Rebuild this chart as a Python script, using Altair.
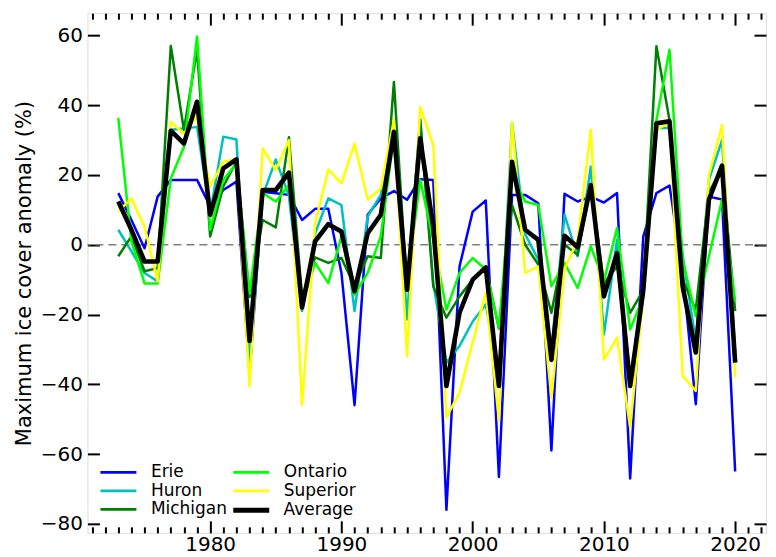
import altair as alt
import pandas as pd

years = list(range(1973, 2021))

erie = [14.8, 7.1, -1.0, 13.8, 18.6, 18.6, 18.6, 11.0, 15.7, 18.1,
        -37.0, 15.2, 14.8, 14.3, 7.1, 10.3, 10.3, -8.0, -46.0, 8.6,
        13.3, 15.4, 12.9, 18.8, 18.6, -76.0, -6.2, 9.5, 12.7, -66.6,
        14.3, 14.3, 11.9, -59.0, 14.6, 12.4, 13.8, 12.1, 14.8, -67.0,
        2.4, 14.8, 17.0, -8.1, -45.7, 13.8, 13.0, -65.0]

huron = [4.3, -1.9, -8.1, -10.5, 33.0, 33.3, 33.8, 9.0, 31.0, 30.2,
         -34.0, 14.0, 24.5, 14.0, -19.0, 3.3, 13.3, 11.4, -19.0, 8.1,
         14.3, 33.0, -21.4, 36.0, -11.0, -33.8, -29.0, -22.0, -17.1, -37.0,
         35.0, 3.0, -4.3, -30.0, 8.6, -3.3, 22.4, -25.7, 1.4, -39.0,
         -12.0, 33.5, 33.5, -3.0, -27.6, 18.6, 30.0, -31.0]

michigan = [-3.3, 2.4, -7.6, -6.7, 57.0, 32.9, 56.0, 2.4, 16.7, 23.8,
            -15.0, 7.1, 5.0, 30.8, -15.0, -3.6, -5.2, -3.8, -11.9, -3.3,
            -3.8, 46.7, -13.0, 36.0, -12.0, -20.9, -14.8, -10.0, -6.5, -24.0,
            11.4, 0.0, -5.7, -19.5, 0.0, -2.9, 17.0, -11.0, -6.2, -19.5,
            -13.0, 56.9, 35.7, -10.0, -18.6, 15.0, 22.0, -19.0]

ontario = [36.3, 1.0, -11.1, -11.1, 19.0, 28.0, 59.7, 4.3, 18.6, 23.3,
           -14.0, 14.8, 12.4, 17.1, -17.0, -5.2, -11.0, 2.4, -14.3, -8.1,
           2.4, 31.0, -11.0, 18.6, 1.4, -18.6, -8.1, -3.8, -7.1, -23.8,
           20.0, 12.4, 11.4, -11.9, -5.2, -12.4, -0.5, -10.5, 4.8, -24.3,
           -15.0, 35.7, 55.9, -4.3, -20.5, -3.3, 12.9, -16.2]

superior = [9.5, 13.3, 5.2, -10.5, 35.2, 31.9, 36.7, 16.7, 23.8, 24.5,
            -40.5, 27.6, 21.4, 30.0, -46.0, 6.2, 21.6, 17.6, 29.0, 12.9,
            16.2, 35.7, -32.0, 39.5, 28.6, -49.5, -42.4, -28.0, -13.8, -50.5,
            35.0, -8.1, -6.2, -44.0, -7.0, 1.4, 33.0, -32.9, -26.7, -52.4,
            -15.0, 33.0, 35.0, -37.6, -41.9, 20.0, 34.3, -38.0]

average = [12.4, 4.3, -4.8, -4.8, 32.7, 29.0, 41.0, 8.6, 21.9, 24.5,
           -27.6, 15.7, 15.7, 20.7, -18.0, 1.0, 5.9, 3.8, -13.3, 3.3,
           8.6, 32.4, -12.9, 30.5, 5.0, -40.5, -19.5, -10.0, -6.5, -40.5,
           23.8, 4.3, 1.4, -33.0, 2.6, -0.7, 17.1, -14.8, -2.4, -40.5,
           -13.0, 34.8, 35.4, -12.0, -30.9, 12.9, 22.7, -33.8]

lakes = ["Erie", "Huron", "Michigan", "Ontario", "Superior", "Average"]
series = [erie, huron, michigan, ontario, superior, average]
colors = {"Erie": "#0000ff", "Huron": "#00bfbf", "Michigan": "#008000",
          "Ontario": "#00ff00", "Superior": "#ffff00", "Average": "#000000"}
widths = {"Erie": 2.5, "Huron": 2.5, "Michigan": 2.5, "Ontario": 2.5,
          "Superior": 2.5, "Average": 4.6}
legend_widths = {"Erie": 2.8, "Huron": 2.8, "Michigan": 2.8, "Ontario": 2.8,
                 "Superior": 2.8, "Average": 5.0}
# legend slot (column, row) for each series
legend_slot = {"Erie": (0, 0), "Huron": (0, 1), "Michigan": (0, 2),
               "Ontario": (1, 0), "Superior": (1, 1), "Average": (1, 2)}

x_major = [1980, 1990, 2000, 2010, 2020]
x_minor = [y for y in range(1971, 2023) if y % 10 != 0]
y_major = [-80, -60, -40, -20, 0, 20, 40, 60]

rows = []
for name, vals in zip(lakes, series):
    for yr, v in zip(years, vals):
        rows.append({"year": yr, "lake": name, "value": v})
df = pd.DataFrame(rows)

FONT = "DejaVu Sans"
xscale = alt.Scale(domain=[1970.65, 2022.35], nice=False, zero=False)
yscale = alt.Scale(domain=[-82.6, 66.4], nice=False, zero=False)

common_tick = dict(tickColor="black", tickWidth=2, domain=False, grid=False, title=None)

ax_bottom_major = alt.Axis(orient="bottom", values=x_major, format="d", offset=-12, tickSize=12,
                           labelFontSize=20, labelFont=FONT, labelColor="black", labelPadding=2,
                           labelFlush=False, labelOverlap=False, **common_tick)
ax_bottom_minor = alt.Axis(orient="bottom", values=x_minor, offset=-6, tickSize=6, labels=False, **common_tick)
ax_top_major = alt.Axis(orient="top", values=x_major, offset=-12, tickSize=12, labels=False, **common_tick)
ax_top_minor = alt.Axis(orient="top", values=x_minor, offset=-6, tickSize=6, labels=False, **common_tick)
ax_left = alt.Axis(orient="left", values=y_major, offset=-12, tickSize=12, tickColor="black", tickWidth=2,
                   domain=False, grid=False, labelFontSize=20, labelFont=FONT, labelColor="black",
                   labelPadding=5, labelFlush=False, labelOverlap=False,
                   labelExpr="replace(datum.label, '-', '\u2212')",
                   title="Maximum ice cover anomaly (%)", titleFont=FONT, titleFontSize=21,
                   titleFontWeight="normal", titleColor="black", titlePadding=6)
ax_right = alt.Axis(orient="right", values=y_major, offset=-12, tickSize=12, labels=False, **common_tick)

axes_for = {
    "Erie": (ax_bottom_major, ax_left),
    "Huron": (ax_bottom_minor, ax_right),
    "Michigan": (ax_top_major, None),
    "Ontario": (ax_top_minor, None),
    "Superior": (None, None),
    "Average": (None, None),
}

LEG_X0, LEG_DX = 20.5, 133
LEG_Y0, LEG_DY = 449, 18.5


def make_legend(name):
    col, row = legend_slot[name]
    extra = legend_widths[name] - 2.8
    return alt.Legend(title=None, orient="none", legendX=LEG_X0 + col * LEG_DX - extra / 2,
                      legendY=LEG_Y0 + row * LEG_DY,
                      symbolType="M-2,0H2", symbolSize=324, symbolStrokeWidth=legend_widths[name],
                      labelFontSize=17, labelFont=FONT, labelColor="black",
                      labelOffset=22 - extra / 2, padding=0)


zero_rule = alt.Chart(df).transform_filter(alt.datum.year == 1973).transform_filter(
    alt.datum.lake == "Erie").mark_rule(color="#808080", strokeDash=[8, 5], strokeWidth=1.5).encode(
    y=alt.YDatum(0, scale=yscale, axis=None))

layers = [zero_rule]
for name in lakes:
    xa, ya = axes_for[name]
    layers.append(
        alt.Chart(df).transform_filter(alt.datum.lake == name).mark_line(
            strokeJoin="round", clip=True, strokeWidth=widths[name]).encode(
            x=alt.X("year:Q", scale=xscale, axis=xa),
            y=alt.Y("value:Q", scale=yscale, axis=ya),
            color=alt.Color("lake:N", scale=alt.Scale(domain=[name], range=[colors[name]]),
                            legend=make_legend(name)),
        )
    )

chart = alt.layer(*layers).resolve_axis(x="independent", y="independent").resolve_scale(
    color="independent").properties(
    width=679, height=520,
    autosize=alt.AutoSizeParams(type="none"),
    padding={"left": 79.5, "top": 5, "right": 2, "bottom": 24},
).configure_view(stroke="black", strokeWidth=2.5).configure(background="white")

chart.save("out.html", embed_options={"renderer": "svg", "actions": False})
